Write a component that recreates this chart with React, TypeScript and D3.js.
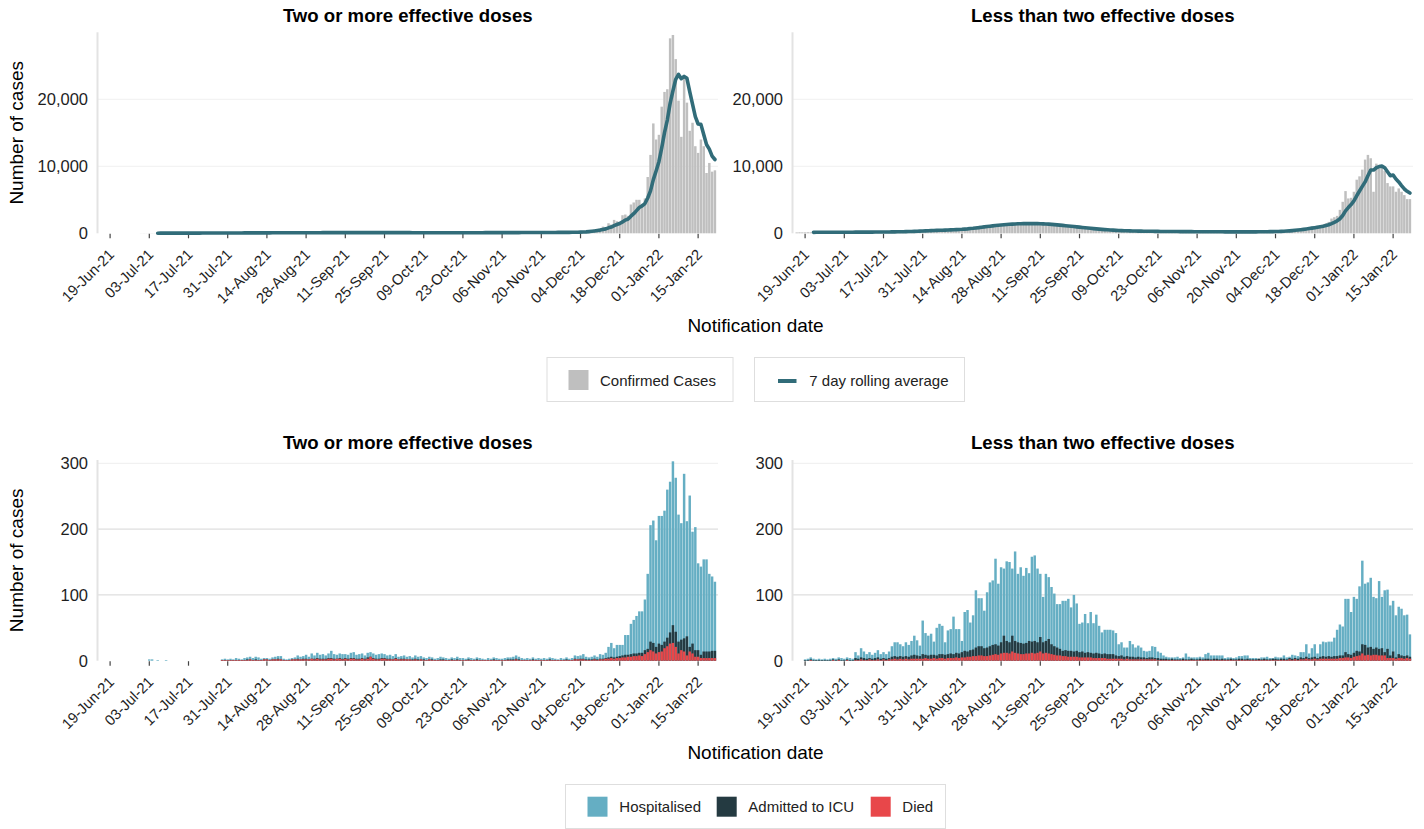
import React from "react";
import * as d3 from "d3";

// ---------------- DATA ----------------
const DAY0 = "2021-06-19";
const tickLabels = [
  "19-Jun-21", "03-Jul-21", "17-Jul-21", "31-Jul-21", "14-Aug-21", "28-Aug-21",
  "11-Sep-21", "25-Sep-21", "09-Oct-21", "23-Oct-21", "06-Nov-21", "20-Nov-21",
  "04-Dec-21", "18-Dec-21", "01-Jan-22", "15-Jan-22",
];
const panelTitles = ["Two or more effective doses", "Less than two effective doses"];
const casesTicks = [0, 10000, 20000];
const severeTicks = [0, 100, 200, 300];
const casesLegend = ["Confirmed Cases", "7 day rolling average"];
const severeLegend = ["Hospitalised", "Admitted to ICU", "Died"];

// Confirmed cases, two or more effective doses (daily, from 30-Jun-21)
const casesTwoStart = "2021-06-30";
const casesTwo = [
  12, 18, 15,
  20, 22, 18, 25, 28, 24, 20, 26, 30, 27, 32, 35, 30, 26,
  30, 34, 38, 33, 40, 42, 36, 38, 45, 48, 44, 50, 52, 46,
  48, 55, 60, 54, 58, 62, 56, 60, 66, 70, 64, 72, 75, 68,
  70, 76, 80, 74, 82, 85, 78, 80, 88, 90, 84, 92, 95, 86,
  88, 95, 98, 90, 96, 100, 92, 90, 98, 102, 94, 100, 104, 96,
  95, 100, 105, 98, 102, 106, 97, 94, 100, 104, 96, 99, 102, 94,
  92, 97, 100, 93, 96, 99, 90, 88, 93, 96, 89, 92, 95, 87,
  86, 90, 94, 88, 90, 93, 85, 84, 89, 92, 86, 90, 93, 86,
  88, 93, 96, 90, 94, 98, 90, 92, 98, 102, 95, 100, 105, 97,
  100, 106, 110, 104, 108, 114, 106, 110, 118, 122, 115, 120, 128, 118,
  122, 130, 136, 128, 134, 142, 132, 140, 150, 160, 150, 165, 180, 175,
  230, 280, 330, 400, 480, 550, 600, 700, 1000, 900, 1500, 1300, 2000, 1800,
  1700, 2700, 2800, 2600, 4300, 4600, 5000, 5000, 4400, 5200, 8400, 11700, 16400, 14000,
  14700, 18900, 21100, 21500, 29100, 29600, 26000, 19800, 14400, 23500, 19500, 15300, 16500, 13000,
  12000, 14000, 13000, 9000, 10500, 9200, 9400,
];

// Confirmed cases, less than two effective doses (daily, from 16-Jun-21)
const casesLessStart = "2021-06-16";
const casesLess = [
  130, 150, 140,
  145, 160, 150, 140, 155, 165, 150, 150, 170, 160, 150, 165, 175, 160,
  165, 180, 170, 160, 175, 190, 175, 180, 195, 185, 175, 195, 205, 190,
  200, 220, 210, 230, 240, 260, 250, 270, 300, 320, 310, 340, 380, 400,
  390, 420, 440, 430, 460, 490, 480, 500, 540, 560, 550, 590, 620, 640,
  660, 770, 790, 860, 880, 1000, 960, 1060, 1140, 1160, 1230, 1220, 1320, 1290,
  1350, 1420, 1380, 1450, 1400, 1480, 1420, 1500, 1440, 1400, 1470, 1430, 1460, 1390,
  1380, 1340, 1310, 1250, 1230, 1170, 1160, 1090, 1070, 990, 970, 910, 880, 810,
  790, 730, 710, 650, 630, 570, 560, 510, 500, 450, 450, 410, 410, 370,
  380, 350, 360, 330, 340, 310, 320, 300, 305, 290, 295, 280, 285, 270,
  275, 262, 270, 255, 262, 250, 258, 245, 252, 240, 248, 236, 244, 232,
  240, 228, 236, 222, 232, 218, 226, 214, 222, 208, 218, 204, 214, 200,
  210, 204, 218, 208, 226, 216, 236, 228, 246, 240, 258, 254, 276, 272,
  300, 320, 360, 400, 430, 480, 520, 600, 650, 700, 750, 800, 900, 1000,
  1100, 1150, 1200, 1300, 1500, 1700, 2200, 2400, 2600, 3500, 4700, 6300, 5200, 5300,
  6200, 8000, 8500, 9500, 11000, 11700, 11200, 6200, 10400, 9700, 10000, 9300, 7500, 7000,
  7000, 6200, 6700, 6200, 5700, 5100, 5100,
];

// Severe outcomes (daily from 19-Jun-21); bar heights: hospitalised total, ICU level, died level
const severeStart = "2021-06-19";
const hospTwo = [
  0, 0, 0, 0, 0, 0, 0, 0, 0, 0, 0, 0, 0, 0,
  2, 2, 0, 1, 0, 0, 1, 0, 0, 0, 0, 0, 0, 0,
  0, 0, 0, 0, 0, 0, 0, 0, 0, 0, 0, 0, 2, 3,
  2, 3, 2, 4, 3, 2, 4, 5, 6, 4, 6, 5, 3, 4,
  4, 3, 5, 6, 7, 7, 3, 2, 3, 4, 5, 8, 6, 7,
  9, 6, 11, 8, 12, 9, 10, 8, 11, 15, 10, 9, 11, 10,
  10, 9, 12, 13, 9, 10, 11, 8, 12, 13, 11, 9, 10, 11,
  10, 8, 9, 7, 10, 6, 7, 8, 6, 7, 5, 8, 6, 7,
  5, 4, 6, 5, 3, 4, 6, 5, 4, 3, 5, 4, 6, 4,
  4, 3, 5, 4, 3, 5, 4, 3, 2, 4, 3, 5, 4, 3,
  3, 4, 5, 5, 6, 8, 6, 4, 3, 4, 3, 5, 3, 4,
  3, 4, 3, 5, 4, 3, 2, 4, 3, 5, 3, 4, 8, 7,
  8, 10, 6, 5, 6, 8, 6, 10, 9, 12, 21, 27, 19, 24,
  24, 24, 39, 39, 56, 62, 68, 75, 75, 93, 132, 206, 213, 183,
  220, 220, 228, 260, 272, 303, 278, 222, 209, 284, 212, 251, 196, 203,
  148, 143, 154, 154, 132, 128, 120,
];
const icuTwo = [
  0, 0, 0, 0, 0, 0, 0, 0, 0, 0, 0, 0, 0, 0,
  0, 0, 0, 0, 0, 0, 0, 0, 0, 0, 0, 0, 0, 0,
  0, 0, 0, 0, 0, 0, 0, 0, 0, 0, 0, 0, 1, 1,
  1, 1, 1, 1, 1, 1, 1, 2, 2, 1, 2, 1, 1, 2,
  2, 1, 2, 2, 3, 2, 1, 1, 1, 2, 2, 3, 2, 3,
  3, 2, 3, 3, 4, 3, 3, 3, 4, 4, 3, 3, 4, 3,
  4, 3, 4, 4, 3, 3, 4, 3, 5, 6, 4, 3, 3, 4,
  4, 3, 3, 2, 4, 2, 3, 3, 2, 2, 2, 3, 2, 2,
  2, 1, 2, 2, 1, 1, 2, 2, 1, 1, 2, 1, 2, 1,
  1, 1, 2, 1, 1, 2, 1, 1, 1, 1, 1, 2, 1, 1,
  1, 1, 2, 2, 2, 3, 2, 1, 1, 1, 1, 2, 1, 1,
  1, 1, 1, 2, 1, 1, 1, 1, 1, 2, 1, 1, 3, 2,
  3, 3, 2, 2, 2, 3, 2, 3, 3, 4, 5, 6, 5, 6,
  7, 8, 9, 9, 10, 11, 11, 12, 12, 16, 18, 29, 27, 21,
  26, 24, 29, 35, 43, 54, 44, 29, 32, 34, 37, 21, 26, 16,
  16, 9, 14, 14, 14, 15, 15,
];
const diedTwo = [
  0, 0, 0, 0, 0, 0, 0, 0, 0, 0, 0, 0, 0, 0,
  0, 0, 0, 0, 0, 0, 0, 0, 0, 0, 0, 0, 0, 0,
  0, 0, 0, 0, 0, 0, 0, 0, 0, 0, 0, 0, 1, 1,
  1, 1, 1, 1, 1, 1, 1, 1, 2, 1, 1, 1, 1, 2,
  2, 1, 2, 2, 2, 2, 1, 1, 1, 2, 2, 2, 2, 2,
  2, 2, 3, 2, 3, 2, 2, 2, 3, 3, 2, 3, 3, 2,
  3, 2, 3, 3, 2, 2, 3, 2, 3, 6, 3, 2, 2, 3,
  3, 2, 2, 2, 3, 2, 2, 2, 2, 2, 1, 2, 1, 2,
  1, 1, 2, 1, 1, 1, 1, 1, 1, 1, 1, 1, 1, 1,
  1, 1, 1, 1, 1, 1, 1, 1, 1, 1, 1, 1, 1, 1,
  1, 1, 1, 1, 1, 2, 1, 1, 1, 1, 1, 1, 1, 1,
  1, 1, 1, 1, 1, 1, 1, 1, 1, 1, 1, 1, 2, 2,
  2, 2, 1, 1, 1, 2, 1, 2, 2, 3, 3, 4, 3, 4,
  4, 5, 5, 6, 6, 7, 7, 8, 7, 10, 13, 16, 14, 11,
  13, 14, 19, 22, 26, 27, 21, 11, 16, 14, 8, 14, 11, 6,
  6, 4, 4, 4, 4, 4, 4,
];
const hospLess = [
  2, 3, 5, 3, 2, 3, 2, 3, 2, 3, 4, 3, 5, 4,
  3, 5, 4, 3, 13, 8, 19, 14, 10, 13, 9, 12, 16, 10,
  13, 10, 14, 22, 28, 28, 25, 22, 28, 24, 30, 38, 31, 23,
  61, 42, 38, 41, 29, 50, 56, 53, 28, 46, 48, 67, 48, 48,
  30, 74, 77, 58, 69, 107, 95, 95, 76, 104, 119, 122, 155, 117,
  142, 140, 151, 150, 140, 166, 132, 142, 129, 141, 133, 158, 160, 140,
  132, 97, 132, 127, 112, 102, 86, 86, 91, 91, 94, 81, 100, 87,
  56, 58, 71, 57, 74, 57, 70, 53, 43, 47, 47, 47, 46, 42,
  25, 28, 20, 20, 30, 25, 20, 23, 20, 15, 14, 15, 22, 21,
  14, 12, 8, 6, 5, 5, 5, 6, 4, 5, 11, 6, 5, 5,
  5, 6, 5, 10, 12, 8, 8, 8, 8, 8, 4, 5, 5, 4,
  5, 7, 7, 8, 8, 4, 4, 4, 3, 5, 5, 6, 4, 4,
  6, 5, 5, 8, 5, 6, 9, 8, 7, 13, 13, 25, 11, 19,
  25, 11, 25, 29, 28, 29, 29, 35, 47, 55, 52, 94, 94, 74,
  97, 94, 113, 152, 117, 119, 126, 97, 95, 121, 97, 107, 108, 84,
  91, 69, 82, 79, 69, 70, 40,
];
const icuLess = [
  1, 1, 2, 1, 1, 1, 1, 1, 1, 1, 2, 1, 2, 1,
  1, 2, 1, 1, 4, 3, 5, 4, 3, 4, 3, 4, 5, 3,
  4, 3, 4, 6, 7, 6, 7, 6, 7, 6, 8, 9, 8, 7,
  10, 9, 8, 9, 9, 8, 10, 10, 9, 10, 11, 10, 12, 11,
  13, 15, 14, 16, 17, 20, 22, 22, 19, 20, 22, 24, 25, 23,
  28, 38, 30, 28, 38, 30, 28, 27, 26, 27, 30, 29, 30, 28,
  36, 28, 30, 33, 25, 22, 20, 18, 15, 16, 15, 15, 14, 15,
  13, 14, 12, 13, 12, 11, 12, 11, 10, 11, 10, 10, 10, 8,
  7, 8, 6, 7, 6, 6, 5, 6, 5, 5, 4, 5, 5, 4,
  4, 3, 3, 3, 2, 3, 2, 2, 2, 3, 2, 2, 3, 2,
  2, 3, 2, 3, 3, 2, 3, 3, 2, 3, 2, 2, 3, 2,
  2, 3, 3, 2, 3, 2, 2, 2, 3, 2, 3, 2, 2, 3,
  3, 2, 3, 3, 2, 4, 3, 4, 3, 5, 4, 6, 4, 5,
  6, 4, 6, 7, 6, 7, 6, 7, 7, 8, 8, 13, 10, 9,
  12, 15, 14, 25, 24, 20, 21, 18, 20, 18, 19, 13, 18, 8,
  14, 5, 10, 8, 7, 8, 6,
];
const diedLess = [
  0, 0, 1, 0, 0, 0, 0, 0, 0, 0, 1, 0, 1, 0,
  0, 1, 0, 0, 1, 1, 2, 1, 1, 2, 1, 1, 2, 1,
  2, 1, 2, 2, 3, 2, 3, 2, 3, 2, 3, 3, 3, 3,
  3, 4, 3, 3, 4, 3, 4, 4, 3, 4, 4, 4, 5, 4,
  5, 5, 6, 6, 7, 7, 8, 8, 7, 7, 8, 9, 10, 9,
  11, 12, 12, 11, 14, 12, 11, 10, 10, 11, 11, 12, 11, 12,
  14, 11, 12, 11, 10, 9, 8, 8, 7, 7, 6, 6, 6, 6,
  5, 5, 5, 5, 5, 4, 4, 4, 4, 4, 3, 3, 3, 3,
  3, 3, 2, 3, 2, 2, 2, 2, 2, 2, 2, 2, 2, 2,
  1, 1, 1, 1, 1, 1, 1, 1, 1, 1, 1, 1, 1, 1,
  1, 1, 1, 1, 1, 1, 1, 1, 1, 1, 1, 1, 1, 1,
  1, 1, 1, 1, 1, 1, 1, 1, 1, 1, 1, 1, 1, 1,
  1, 1, 1, 1, 1, 2, 1, 2, 1, 2, 2, 3, 2, 2,
  3, 2, 3, 3, 3, 3, 3, 3, 3, 4, 4, 5, 5, 4,
  6, 7, 8, 11, 8, 9, 8, 9, 9, 8, 8, 8, 4, 4,
  4, 3, 4, 4, 3, 4, 3,
];

// ---------------- STYLE / LAYOUT ----------------
const FONT = "'Liberation Sans', Arial, Helvetica, sans-serif";
const C_GREY = "#bfbfbf";
const C_LINE = "#316c79";
const C_HOSP = "#65aec3";
const C_ICU = "#243a41";
const C_DIED = "#e8474a";
const COLS = [
  { x0: 97.5, x1: 718 },
  { x0: 792.5, x1: 1413 },
];
const TOP = { y0: 233.3, y1: 32.3, max: 30000, titleY: 21.7, axisTitleY: 331.7 };
const BOT = { y0: 660.7, y1: 460, max: 305, titleY: 448.5, axisTitleY: 759 };

const parseISO = d3.utcParse("%Y-%m-%d");
const parseTick = d3.utcParse("%d-%b-%y");
const DAY_MS = 864e5;
const day0 = parseISO(DAY0) as Date;
const xDomain = [new Date(+day0 - 4.5 * DAY_MS), new Date(+day0 + 217.1 * DAY_MS)];
const tickDates = tickLabels.map((t) => parseTick(t) as Date);

type Pt = { date: Date; v: number };
function series(start: string, values: number[]): Pt[] {
  const s = parseISO(start) as Date;
  return values.map((v, i) => ({ date: d3.utcDay.offset(s, i), v }));
}
function makeX(ci: number) {
  return d3.scaleUtc().domain(xDomain).range([COLS[ci].x0, COLS[ci].x1]);
}

function Frame({ ci, x, y, ticks, fmt, gridColor, lay, title }: any) {
  const col = COLS[ci];
  return (
    <g>
      {ticks.filter((t: number) => t > 0).map((t: number) => (
        <line key={"g" + t} x1={col.x0} x2={col.x1} y1={y(t)} y2={y(t)}
          stroke={gridColor(t)} strokeWidth={1} />
      ))}
      <line x1={col.x0} x2={col.x0} y1={lay.y1} y2={lay.y0} stroke="#e3e3e3" strokeWidth={2} />
      {ticks.map((t: number) => (
        <text key={"yl" + t} x={col.x0 - 9.5} y={y(t) + 5.8} textAnchor="end"
          fontSize={16.5} fill="#1e1e1e" fontFamily={FONT}>{fmt(t)}</text>
      ))}
      {tickDates.map((d, i) => {
        const tx = x(d);
        const ax = tx + 5;
        const ay = lay.y0 + 22.2;
        return (
          <g key={"xt" + i}>
            <line x1={tx} x2={tx} y1={lay.y0 + 0.5} y2={lay.y0 + 5} stroke="#444" strokeWidth={1.2} />
            <text x={ax} y={ay} textAnchor="end" fontSize={14.8} fill="#1e1e1e" fontFamily={FONT}
              transform={`rotate(-45 ${ax} ${ay})`}>{tickLabels[i]}</text>
          </g>
        );
      })}
      <text x={(col.x0 + col.x1) / 2} y={lay.titleY} textAnchor="middle" fontSize={18.6}
        fontWeight="bold" fill="#000" fontFamily={FONT}>{title}</text>
    </g>
  );
}

function CasesPanel({ ci }: { ci: number }) {
  const x = makeX(ci);
  const y = d3.scaleLinear().domain([0, TOP.max]).range([TOP.y0, TOP.y1]);
  const data = ci === 0 ? series(casesTwoStart, casesTwo) : series(casesLessStart, casesLess);
  const step = x(d3.utcDay.offset(day0, 1)) - x(day0);
  const bw = step * 0.88;
  const avg: Pt[] = [];
  data.forEach((d, i) => {
    if (i >= 6) avg.push({ date: d.date, v: d3.mean(data.slice(i - 6, i + 1), (e) => e.v) as number });
  });
  const line = d3.line<Pt>().x((d) => x(d.date)).y((d) => y(d.v));
  const fmt = d3.format(",");
  return (
    <g>
      <Frame ci={ci} x={x} y={y} ticks={casesTicks} fmt={fmt} lay={TOP}
        gridColor={() => "#f1f1f1"} title={panelTitles[ci]} />
      {data.map((d, i) => (
        <rect key={i} x={x(d.date) - bw / 2} width={bw} y={y(d.v)} height={TOP.y0 - y(d.v)} fill={C_GREY} />
      ))}
      <path d={line(avg) as string} fill="none" stroke={C_LINE} strokeWidth={3.6}
        strokeLinejoin="round" strokeLinecap="round" />
    </g>
  );
}

function SeverePanel({ ci }: { ci: number }) {
  const x = makeX(ci);
  const y = d3.scaleLinear().domain([0, BOT.max]).range([BOT.y0, BOT.y1]);
  const hosp = series(severeStart, ci === 0 ? hospTwo : hospLess);
  const icu = series(severeStart, ci === 0 ? icuTwo : icuLess);
  const died = series(severeStart, ci === 0 ? diedTwo : diedLess);
  const step = x(d3.utcDay.offset(day0, 1)) - x(day0);
  const bw = step * 0.88;
  const bars = (arr: Pt[], color: string, k: string) =>
    arr.filter((d) => d.v > 0).map((d, i) => (
      <rect key={k + i} x={x(d.date) - bw / 2} width={bw} y={y(d.v)} height={BOT.y0 - y(d.v)} fill={color} />
    ));
  return (
    <g>
      <Frame ci={ci} x={x} y={y} ticks={severeTicks} fmt={d3.format(",")} lay={BOT}
        gridColor={(t: number) => (t >= 300 ? "#eeeeee" : "#d6d6d6")} title={panelTitles[ci]} />
      {bars(hosp, C_HOSP, "h")}
      {bars(icu, C_ICU, "i")}
      {bars(died, C_DIED, "d")}
    </g>
  );
}

function AxisTitles({ lay }: { lay: any }) {
  const cy = (lay.y0 + lay.y1) / 2;
  return (
    <g fontFamily={FONT} fill="#000">
      <text x={23.5} y={cy} textAnchor="middle" fontSize={19} transform={`rotate(-90 23.5 ${cy})`}>
        Number of cases
      </text>
      <text x={755.5} y={lay.axisTitleY} textAnchor="middle" fontSize={19}>Notification date</text>
    </g>
  );
}

function Legends() {
  return (
    <g fontFamily={FONT} fontSize={15} fill="#222">
      <rect x={547} y={357.5} width={186} height={44} fill="#fff" stroke="#dedede" strokeWidth={1} />
      <rect x={568.5} y={370} width={20} height={20} fill={C_GREY} />
      <text x={600} y={385.7}>{casesLegend[0]}</text>
      <rect x={754.5} y={357.5} width={210} height={44} fill="#fff" stroke="#dedede" strokeWidth={1} />
      <line x1={778} x2={796.5} y1={381} y2={381} stroke={C_LINE} strokeWidth={4} />
      <text x={809.3} y={385.7}>{casesLegend[1]}</text>

      <rect x={565.5} y={784.5} width={380} height={44} fill="#fff" stroke="#dedede" strokeWidth={1} />
      <rect x={587.5} y={796.7} width={20} height={20} fill={C_HOSP} />
      <text x={619.3} y={812.3}>{severeLegend[0]}</text>
      <rect x={716.7} y={796.7} width={20} height={20} fill={C_ICU} />
      <text x={748.3} y={812.3}>{severeLegend[1]}</text>
      <rect x={870.7} y={796.7} width={20} height={20} fill={C_DIED} />
      <text x={902.3} y={812.3}>{severeLegend[2]}</text>
    </g>
  );
}

export default function App() {
  return (
    <div style={{ position: "absolute", left: 0, top: 0, background: "#fff" }}>
      <svg width={1424} height={829} viewBox="0 0 1424 829" style={{ display: "block" }}>
        <rect x={0} y={0} width={1424} height={829} fill="#fff" />
        <CasesPanel ci={0} />
        <CasesPanel ci={1} />
        <SeverePanel ci={0} />
        <SeverePanel ci={1} />
        <AxisTitles lay={TOP} />
        <AxisTitles lay={BOT} />
        <Legends />
      </svg>
    </div>
  );
}
